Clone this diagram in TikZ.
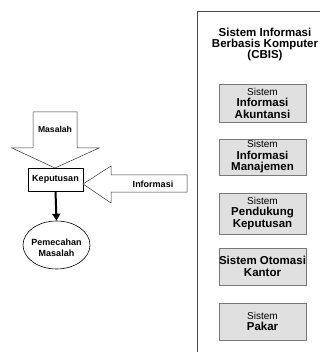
\documentclass[tikz,border=0pt]{standalone}
\usepackage{fontspec}
\setmainfont{Liberation Sans}
\usetikzlibrary{arrows.meta,shapes.geometric}
\definecolor{boxfill}{RGB}{224,224,224}
\definecolor{boxline}{RGB}{120,120,120}
\definecolor{frameline}{RGB}{70,70,70}
\tikzset{
  lbl/.style={font=\fontsize{9}{10.5}\selectfont\bfseries, align=center, inner sep=0pt},
  keybox/.style={draw=black, line width=0.6pt, fill=white, minimum width=55pt, minimum height=23pt, inner sep=0pt, font=\fontsize{9}{10.5}\selectfont\bfseries},
  bigarrow/.style={draw=black!80, line width=0.5pt, fill=white},
  sysbox/.style={draw=boxline, line width=0.8pt, fill=boxfill, minimum width=87pt, inner sep=0pt, align=center, font=\fontsize{11.5}{11.5}\selectfont\bfseries},
}
\newcommand{\sysw}{{\mdseries\fontsize{10}{11.5}\selectfont Sistem}}
\begin{document}
\begin{tikzpicture}[x=1pt,y=-1pt]
\useasboundingbox[fill=white] (0,0) rectangle (320,352);
% left part
\draw[bigarrow] (33,112) -- (77,112) -- (77,148) -- (99,148) -- (55,168) -- (12,148) -- (33,148) -- cycle;
\node[lbl, font=\fontsize{8.6}{10}\selectfont\bfseries] (mas) at (55,129) {Masalah};
\node[keybox] (kep) at (55.5,179.5) {Keputusan};
\draw[bigarrow] (83,184) -- (111,166) -- (111,175) -- (187,175) -- (187,192) -- (111,192) -- (111,203) -- cycle;
\node[lbl] (inf) at (153,184) {Informasi};
\node[draw=black, line width=0.6pt, fill=white, ellipse, minimum width=67pt, minimum height=48pt, inner sep=0pt] (ell) at (56.5,245) {};
\node[lbl] (pm) at (56.5,248) {Pemecahan\\Masalah};
\draw[line width=2pt, -{Triangle[length=7pt,width=8pt]}] (kep.south) -- (ell.north);
% right frame
\draw[frameline, line width=1pt] (197,352) |- (320,12);
\node[font=\fontsize{11.5}{11}\selectfont\bfseries, align=center, inner sep=0pt] (title) at (265,45) {Sistem Informasi\\Berbasis Komputer\\(CBIS)};
\node[sysbox, minimum height=38pt] (b1) at (262.5,103) {\sysw\\Informasi\\Akuntansi};
\node[sysbox, minimum height=36pt] (b2) at (262.5,157) {\sysw\\Informasi\\Manajemen};
\node[sysbox, minimum height=41pt] (b3) at (262.5,213.5) {\sysw\\Pendukung\\Keputusan};
\node[sysbox, minimum height=37pt] (b4) at (262.5,266.5) {Sistem Otomasi\\Kantor};
\node[sysbox, minimum height=37pt] (b5) at (262.5,321.5) {\sysw\\Pakar};
\end{tikzpicture}
\end{document}
